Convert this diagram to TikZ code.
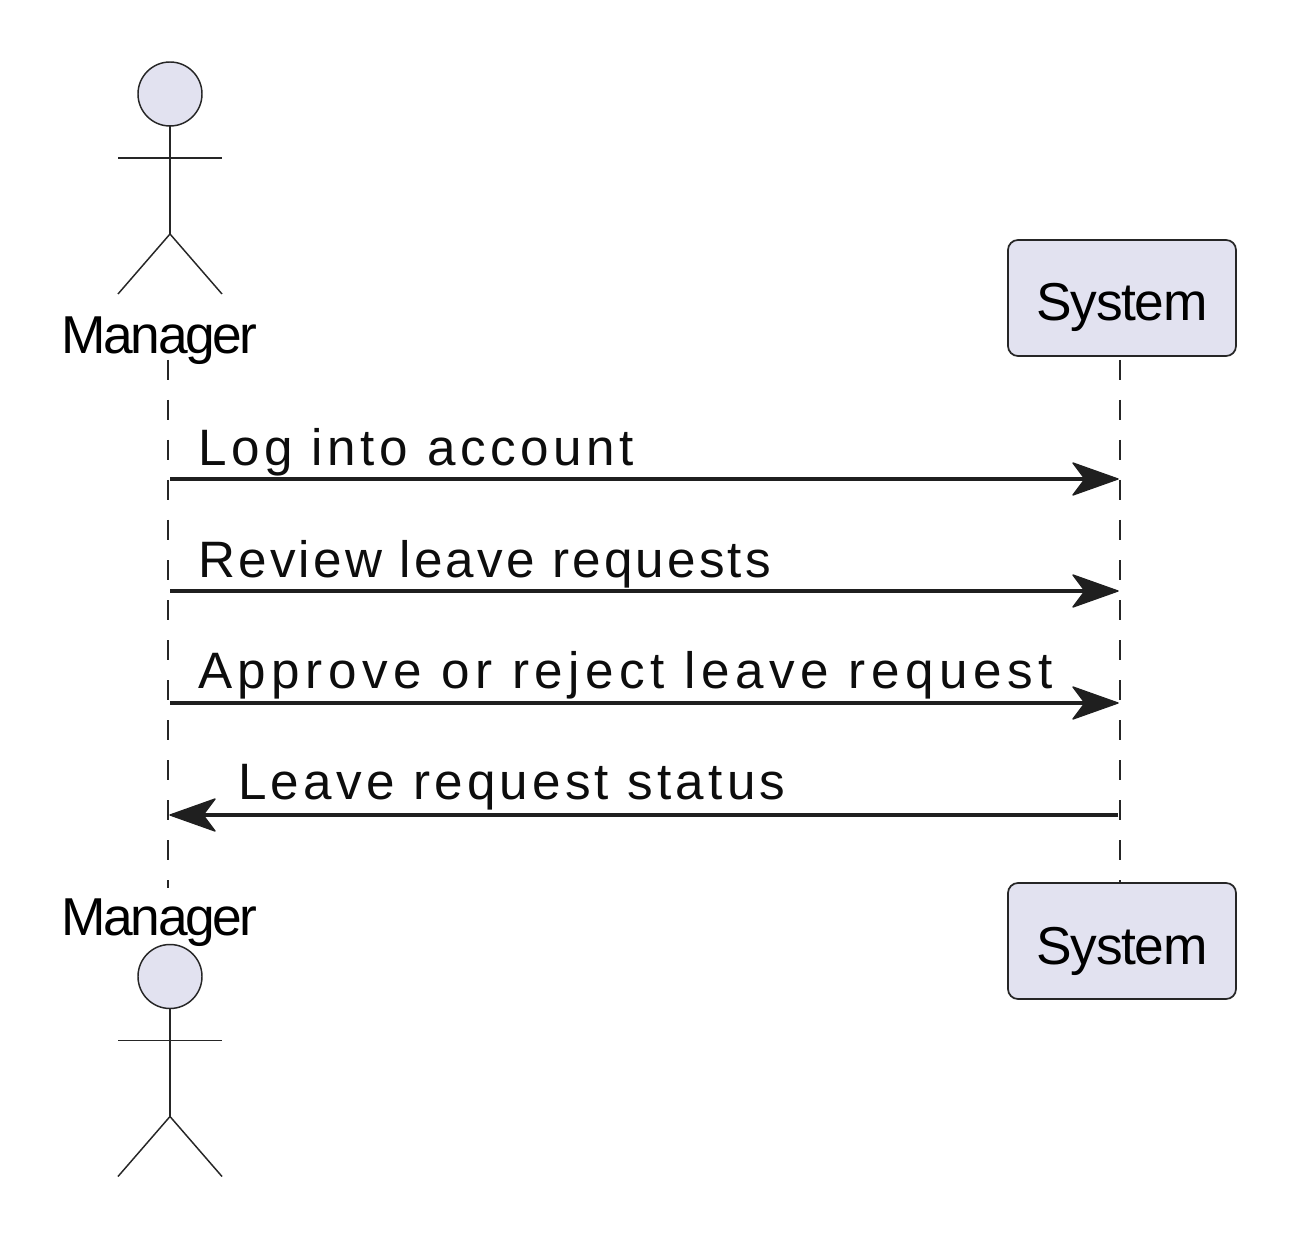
\documentclass[tikz,border=0pt]{standalone}
\usepackage{fontspec}
\setmainfont{Liberation Sans}
\definecolor{actorfill}{HTML}{E2E2F0}
\tikzset{x=0.75pt,y=-0.75pt,
 line/.style={draw=black!85!white,line width=1.1pt},
 life/.style={draw=black!85,line width=1.1pt,dash pattern=on 15pt off 15pt},
 msg/.style={draw=black!88,line width=2.6pt,line cap=butt},
 head/.style={fill=black!88,draw=black!88,line width=1pt,line join=round},
 part/.style={draw=black!85,line width=1.3pt,fill=actorfill,rounded corners=7.5pt,minimum width=171pt,minimum height=87pt,inner sep=0pt,text height=34.5pt,text depth=0pt,font=\fontsize{40}{40}\selectfont,text=black},
 alabel/.style={inner sep=0pt,font=\fontsize{40}{40}\selectfont,text=black,anchor=base},
 mlabel/.style={inner sep=0pt,font=\fontsize{38.4}{38.4}\selectfont,text=black!95,anchor=base west},
}
\newcommand{\stick}[2]{%
 \draw[line,fill=actorfill] (#1,#2) circle[radius=32];
 \draw[line] (#1,#2+32) -- (#1,#2+140);
 \draw[line] (#1-52,#2+64) -- (#1+52,#2+64);
 \draw[line] (#1-52,#2+200) -- (#1,#2+140) -- (#1+52,#2+200);
}
\begin{document}
\begin{tikzpicture}
\useasboundingbox (0,0) rectangle (1300,1244);
\fill[white] (0,0) rectangle (1300,1244);
\coordinate (mt) at (168,360);
\coordinate (mb) at (168,888);
\coordinate (st) at (1120,360);
\coordinate (sb) at (1120,882);
\draw[life] (mt) -- (mb);
\draw[life] (st) -- (sb);
\stick{170}{94}
\stick{170}{976.5}
\node[alabel] (m1) at (159.5,353.5) {\addfontfeature{LetterSpace=-4.5}Manager};
\node[alabel] (m2) at (159.5,935) {\addfontfeature{LetterSpace=-4.5}Manager};
\node[part] (s1) at (1122,298) {\addfontfeature{LetterSpace=-2.5}System};
\node[part] (s2) at (1122,941) {\addfontfeature{LetterSpace=-2.5}System};
\coordinate (a1) at (170,479); \coordinate (b1) at (1118,479);
\coordinate (a2) at (170,591); \coordinate (b2) at (1118,591);
\coordinate (a3) at (170,703); \coordinate (b3) at (1118,703);
\coordinate (a4) at (170,815); \coordinate (b4) at (1118,815);
\foreach \a/\b in {a1/b1,a2/b2,a3/b3} {
 \draw[msg] (\a) -- ([xshift=-12]\b);
 \filldraw[head] (\b) -- ++(-45,-16) -- ++(12,16) -- ++(-12,16) -- cycle;
}
\draw[msg] (b4) -- ([xshift=12]a4);
\filldraw[head] (a4) -- ++(45,-16) -- ++(-12,16) -- ++(12,16) -- cycle;
\node[mlabel] (l1) at (198,465) {\addfontfeature{LetterSpace=9.05}Log into account};
\node[mlabel] (l2) at (198,577) {\addfontfeature{LetterSpace=6.25}Review leave requests};
\node[mlabel] (l3) at (198,688) {\addfontfeature{LetterSpace=10.75}Approve or reject leave request};
\node[mlabel] (l4) at (238,799) {\addfontfeature{LetterSpace=8.25}Leave request status};
\end{tikzpicture}
\end{document}
